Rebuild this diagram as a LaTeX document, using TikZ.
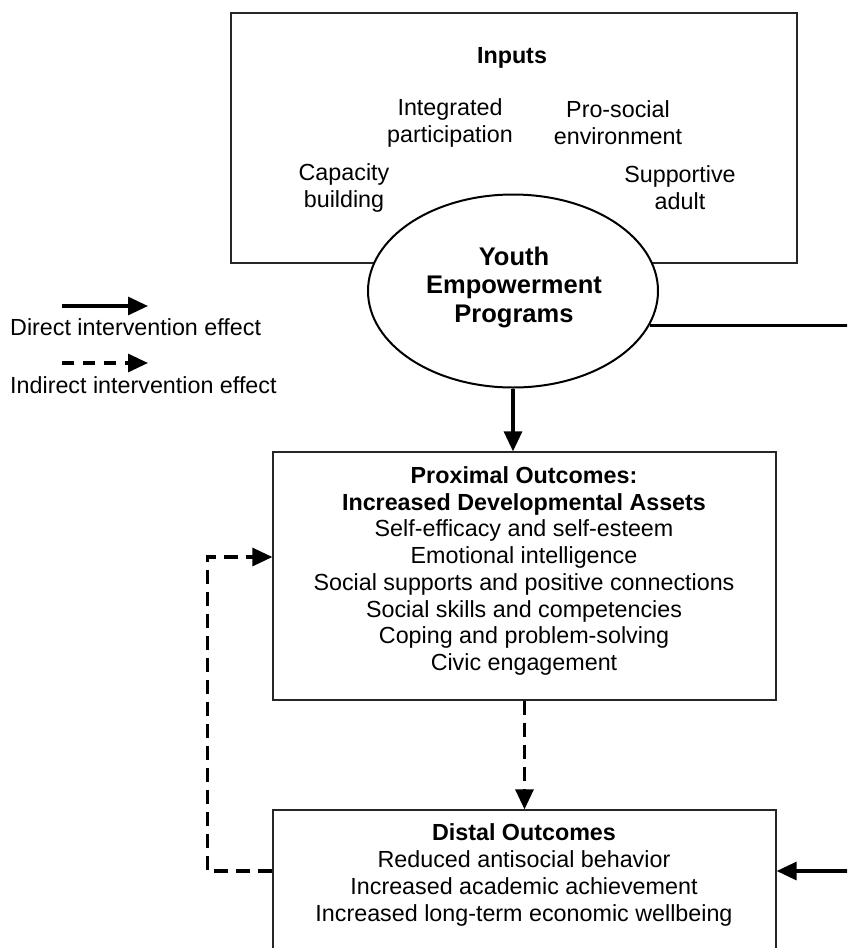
\documentclass[tikz,border=0pt]{standalone}
\usepackage{fontspec}
\setmainfont{Liberation Sans}
\usetikzlibrary{shapes.geometric,arrows.meta}
\begin{document}
\begin{tikzpicture}[x=1pt,y=-1pt,
  box/.style={draw=black!85,line width=1.3pt,rectangle,inner sep=0pt,fill=white},
  txt/.style={align=center,inner sep=0pt,font=\fontsize{23.3}{26.7}\selectfont},
  solidarr/.style={line width=3.2pt,-{Triangle[length=20pt,width=18pt]}},
  dasharr/.style={line width=3.2pt,dash pattern=on 14pt off 8pt,-{Triangle[length=20pt,width=18pt]}}]
\useasboundingbox (0,0) rectangle (847,948);
\clip (0,0) rectangle (847,948);
% boxes
\node[box,minimum width=566pt,minimum height=250pt] (inp) at (514,138) {};
\node[txt,font=\bfseries\fontsize{23.3}{26.7}\selectfont] (inpt) at (512,58) {Inputs};
\node[txt] (integ) at (450,123) {Integrated\\participation};
\node[txt] (prosoc) at (618,123) {Pro-social\\environment};
\node[txt] (capac) at (344,188) {Capacity\\building};
\node[txt] (supp) at (680,188) {Supportive\\adult};
\node[ellipse,draw,line width=2pt,fill=white,minimum width=290pt,minimum height=193pt,inner sep=0pt] (yep) at (513,291) {};
\node[txt,font=\bfseries\fontsize{25.5}{28.5}\selectfont] (yept) at (514,287) {Youth\\Empowerment\\Programs};
\node[box,minimum width=503pt,minimum height=248pt] (prox) at (524.5,576) {};
\node[txt] (proxt) at (524,571) {\textbf{Proximal Outcomes:}\\\textbf{Increased Developmental Assets}\\Self-efficacy and self-esteem\\Emotional intelligence\\Social supports and positive connections\\Social skills and competencies\\Coping and problem-solving\\Civic engagement};
\node[box,minimum width=503pt,minimum height=180pt] (dist) at (524.5,900) {};
\node[txt] (distt) at (524,875) {\textbf{Distal Outcomes}\\Reduced antisocial behavior\\Increased academic achievement\\Increased long-term economic wellbeing};
% connectors
\draw[solidarr] (yep.south) -- (yep.south |- prox.north);
\draw[dasharr] (prox.south) -- (dist.north);
\draw[solidarr] (yep.-14.5) -- ++(250,0) |- ([yshift=29pt]dist.east);
\draw[dasharr] ([yshift=29pt]dist.west) -- ++(-65,0) |- ([yshift=19pt]prox.west);
% legend
\coordinate (l1a) at (62,306);
\coordinate (l1b) at (148,306);
\coordinate (l2a) at (62,363);
\coordinate (l2b) at (148,363);
\draw[solidarr] (l1a) -- (l1b);
\draw[dasharr,dash pattern=on 12pt off 9pt] (l2a) -- (l2b);
\node[txt,anchor=west] (leg1) at (10,327) {Direct intervention effect};
\node[txt,anchor=west] (leg2) at (10,385) {Indirect intervention effect};
\end{tikzpicture}
\end{document}
